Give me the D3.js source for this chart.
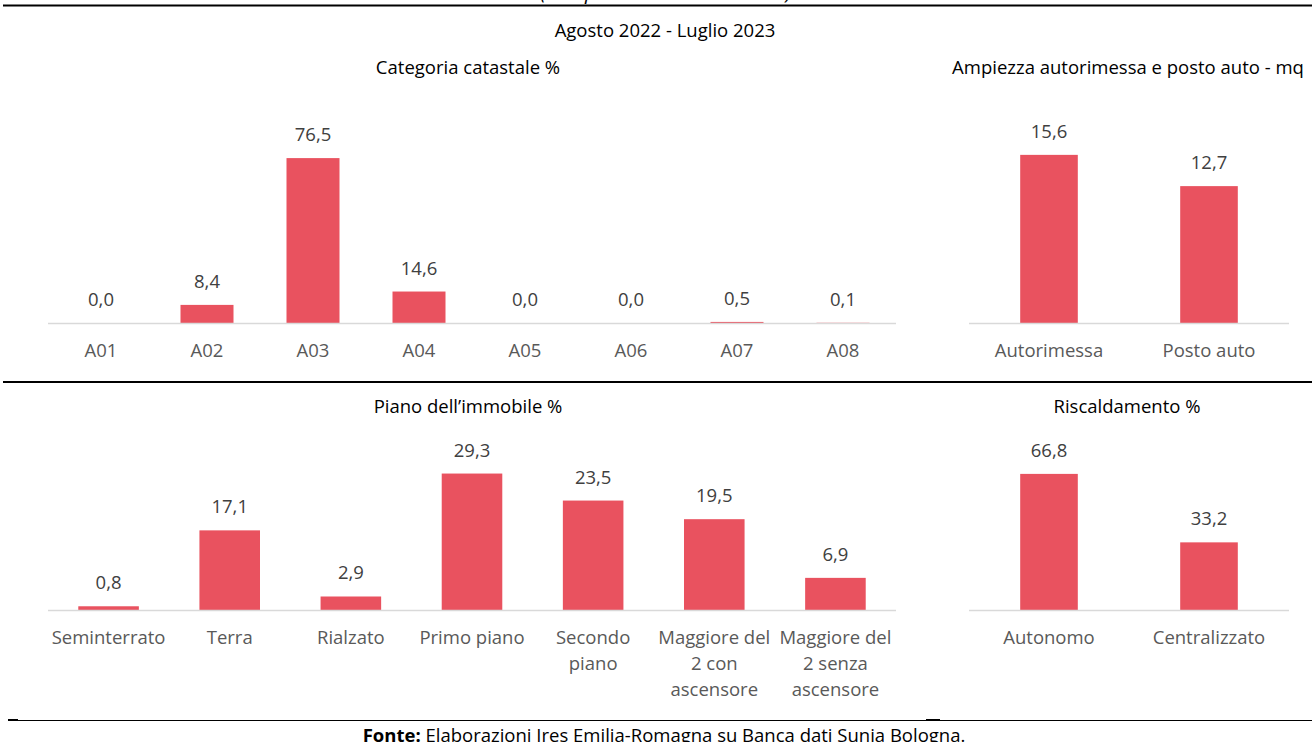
<!DOCTYPE html>
<html>
<head>
<meta charset="utf-8">
<script src="https://cdn.jsdelivr.net/npm/d3@7"></script>
<style>
  body { margin: 0; background: #fff; }
  svg text { font-family: "Open Sans", Lato, sans-serif; }
  .ptitle { font-size: 18.5px; fill: #000; text-anchor: middle; }
  .vlabel { font-size: 18.5px; fill: #404040; text-anchor: middle; }
  .clabel { font-size: 18.5px; fill: #595959; text-anchor: middle; }
</style>
</head>
<body>
<div id="chart"></div>
<script>
// data
const catastaleCats = ["A01", "A02", "A03", "A04", "A05", "A06", "A07", "A08"];
const catastaleVals = [0.0, 8.4, 76.5, 14.6, 0.0, 0.0, 0.5, 0.1];

const garageCats = ["Autorimessa", "Posto auto"];
const garageVals = [15.6, 12.7];

const pianoCats = ["Seminterrato", "Terra", "Rialzato", "Primo piano", "Secondo piano",
                   "Maggiore del 2 con ascensore", "Maggiore del 2 senza ascensore"];
const pianoVals = [0.8, 17.1, 2.9, 29.3, 23.5, 19.5, 6.9];

const riscCats = ["Autonomo", "Centralizzato"];
const riscVals = [66.8, 33.2];

const W = 1312, H = 742;
const barColor = "#E9525F";

const svg = d3.select("#chart").append("svg")
    .attr("width", W)
    .attr("height", H);

// frame lines
svg.append("line").attr("x1", 3).attr("x2", W).attr("y1", 5.5).attr("y2", 5.5)
    .attr("stroke", "#000").attr("stroke-width", 2);
svg.append("line").attr("x1", 3).attr("x2", W).attr("y1", 382).attr("y2", 382)
    .attr("stroke", "#000").attr("stroke-width", 2);
svg.append("line").attr("x1", 8).attr("x2", W).attr("y1", 720.5).attr("y2", 720.5)
    .attr("stroke", "#000").attr("stroke-width", 1);
svg.append("line").attr("x1", 8).attr("x2", 18).attr("y1", 720).attr("y2", 720)
    .attr("stroke", "#000").attr("stroke-width", 2);
svg.append("line").attr("x1", 926).attr("x2", 940).attr("y1", 720).attr("y2", 720)
    .attr("stroke", "#000").attr("stroke-width", 2);

// cut-off heading and subtitle
svg.append("text").attr("x", 666).attr("y", -1)
    .attr("text-anchor", "middle").attr("font-size", 20.5).attr("font-style", "italic")
    .text("(composizione dei contratti)");
svg.append("text").attr("class", "ptitle").attr("x", 665).attr("y", 37)
    .text("Agosto 2022 - Luglio 2023");

// footer
const foot = svg.append("text").attr("x", 664).attr("y", 742)
    .attr("text-anchor", "middle").attr("font-size", 18.5).attr("fill", "#000");
foot.append("tspan").attr("font-weight", "bold").text("Fonte:");
foot.append("tspan").text(" Elaborazioni Ires Emilia-Romagna su Banca dati Sunia Bologna.");

function fmt(v) { return v.toFixed(1).replace(".", ","); }

function panel(opts) {
    const {cats, vals, x0, x1, top, base, yMax, padInner, title, titleX, titleY} = opts;

    const x = d3.scaleBand().domain(cats).range([x0, x1]).paddingInner(padInner).paddingOuter(padInner / 2);
    const y = d3.scaleLinear().domain([0, yMax]).range([base, top]);

    const g = svg.append("g");

    g.append("text").attr("class", "ptitle").attr("x", titleX).attr("y", titleY).text(title);

    g.selectAll("rect")
        .data(vals)
        .enter().append("rect")
        .attr("x", (d, i) => x(cats[i]))
        .attr("width", x.bandwidth())
        .attr("y", d => y(d))
        .attr("height", d => base - y(d))
        .attr("fill", barColor);

    g.append("line").attr("x1", x0).attr("x2", x1).attr("y1", base + 0.5).attr("y2", base + 0.5)
        .attr("stroke", "#D9D9D9").attr("stroke-width", 1.5);

    g.selectAll(".vlabel")
        .data(vals)
        .enter().append("text")
        .attr("class", "vlabel")
        .attr("x", (d, i) => x(cats[i]) + x.bandwidth() / 2)
        .attr("y", d => y(d) - 17)
        .text(d => fmt(d));

    // category labels, wrapped to band width
    const maxW = 118;
    cats.forEach((c, i) => {
        const cx = x(c) + x.bandwidth() / 2;
        const t = g.append("text").attr("class", "clabel")
            .attr("x", cx)
            .attr("y", base + 34);
        const words = c.split(" ");
        let line = [];
        let ts = t.append("tspan").attr("x", cx).attr("dy", 0);
        words.forEach(w => {
            line.push(w);
            ts.text(line.join(" "));
            if (ts.node().getComputedTextLength() > maxW && line.length > 1) {
                line.pop();
                ts.text(line.join(" "));
                line = [w];
                ts = t.append("tspan").attr("x", cx).attr("dy", 26).text(w);
            }
        });
    });
}

panel({cats: catastaleCats, vals: catastaleVals, x0: 48, x1: 896, top: 129, base: 323,
       yMax: 90, padInner: 0.5, title: "Categoria catastale %", titleX: 468, titleY: 74});
panel({cats: garageCats, vals: garageVals, x0: 969, x1: 1289, top: 129, base: 323,
       yMax: 18, padInner: 0.64, title: "Ampiezza autorimessa e posto auto - mq", titleX: 1128, titleY: 74});
panel({cats: pianoCats, vals: pianoVals, x0: 48, x1: 896, top: 447, base: 610,
       yMax: 35, padInner: 0.5, title: "Piano dell\u2019immobile %", titleX: 468, titleY: 413});
panel({cats: riscCats, vals: riscVals, x0: 969, x1: 1289, top: 447, base: 610,
       yMax: 80, padInner: 0.64, title: "Riscaldamento %", titleX: 1127, titleY: 413});
</script>
</body>
</html>
